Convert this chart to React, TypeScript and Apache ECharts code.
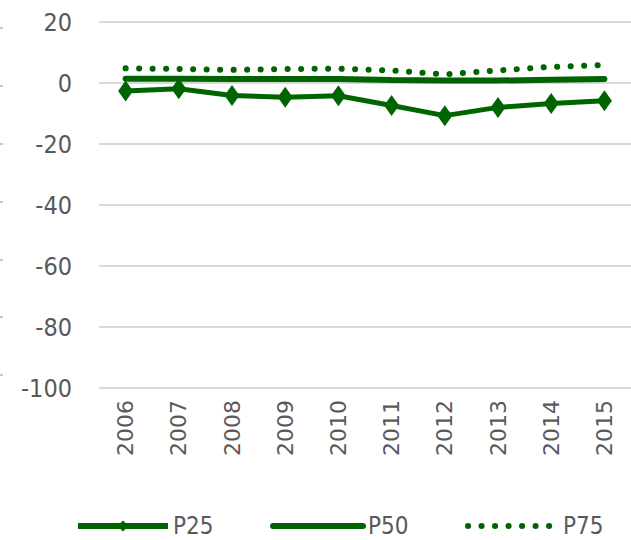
import React, { useEffect, useRef } from "react";
import * as echarts from "echarts";

const years = ["2006", "2007", "2008", "2009", "2010", "2011", "2012", "2013", "2014", "2015"];
const p25 = [-2.6, -1.9, -4.1, -4.7, -4.2, -7.4, -10.7, -8.0, -6.7, -5.8];
const p50 = [1.4, 1.4, 1.3, 1.3, 1.3, 1.0, 0.8, 0.8, 1.1, 1.3];
const p75 = [4.8, 4.6, 4.3, 4.6, 4.7, 4.1, 2.8, 4.1, 5.3, 5.9];
const yMin = -100;
const yMax = 20;
const yStep = 20;

const GREEN = "#006400";
const FONT = "'DejaVu Sans', sans-serif";
const NARROW = "'DejaVu Sans', Verdana, sans-serif";
const CSS =
  'text[style*="Verdana"], text[font-family*="Verdana"], tspan[style*="Verdana"] { font-stretch: condensed !important; }';

export default function App() {
  const ref = useRef<HTMLDivElement>(null);
  useEffect(() => {
    if (!ref.current) return;
    const chart = echarts.init(ref.current, undefined, { renderer: "svg" });
    chart.setOption({
      animation: false,
      backgroundColor: "#ffffff",
      grid: [
        { left: 99, right: 0, top: 22, bottom: 152, containLabel: false },
        { left: 3, right: 627, top: 28, bottom: 165, containLabel: false },
      ],
      legend: {
        left: 70,
        top: 509,
        width: 570,
        itemWidth: 90,
        itemHeight: 14,
        itemGap: 52,
        textStyle: { fontFamily: NARROW, fontSize: 24, color: "#595959" },
        data: [
          { name: "P25", lineStyle: { width: 6 } },
          { name: "P50", lineStyle: { width: 6 }, itemStyle: { opacity: 0 } },
          { name: "P75", lineStyle: { width: 6 }, itemStyle: { opacity: 0 } },
        ],
      },
      xAxis: [
        {
          type: "category",
          data: years,
          boundaryGap: true,
          axisLine: { show: false },
          axisTick: { show: false },
          axisLabel: {
            rotate: 90,
            margin: 12,
            fontFamily: FONT,
            fontSize: 22,
            color: "#595959",
          },
        },
        { type: "category", gridIndex: 1, data: years, show: false },
      ],
      yAxis: [
        {
          type: "value",
          min: yMin,
          max: yMax,
          interval: yStep,
          axisLine: { show: false },
          axisTick: { show: false },
          axisLabel: {
            margin: 27,
            fontFamily: NARROW,
            fontSize: 25,
            color: "#595959",
          },
          splitLine: { show: true, lineStyle: { color: "#d9d9d9", width: 2 } },
        },
        {
          type: "value",
          gridIndex: 1,
          min: yMin,
          max: yMax,
          interval: yStep,
          axisLine: { show: false },
          axisLabel: { show: false },
          splitLine: { show: false },
          axisTick: { show: true, length: 3, lineStyle: { color: "#c8c8c8", width: 2 } },
        },
      ],
      series: [
        {
          name: "P25",
          type: "line",
          data: p25,
          symbol: "diamond",
          symbolSize: [15, 21],
          itemStyle: { color: GREEN },
          lineStyle: { color: GREEN, width: 5 },
          z: 3,
        },
        {
          name: "P50",
          type: "line",
          data: p50,
          symbol: "none",
          itemStyle: { color: GREEN },
          lineStyle: { color: GREEN, width: 6, cap: "round" },
          z: 2,
        },
        {
          name: "P75",
          type: "line",
          data: p75,
          symbol: "none",
          itemStyle: { color: GREEN },
          lineStyle: { color: GREEN, width: 6, cap: "round", type: [0.1, 13.4] },
          z: 1,
        },
      ],
    });
    return () => chart.dispose();
  }, []);
  return (
    <>
      <style>{CSS}</style>
      <div ref={ref} style={{ width: 631, height: 540, position: "absolute", left: 0, top: 0 }} />
    </>
  );
}
